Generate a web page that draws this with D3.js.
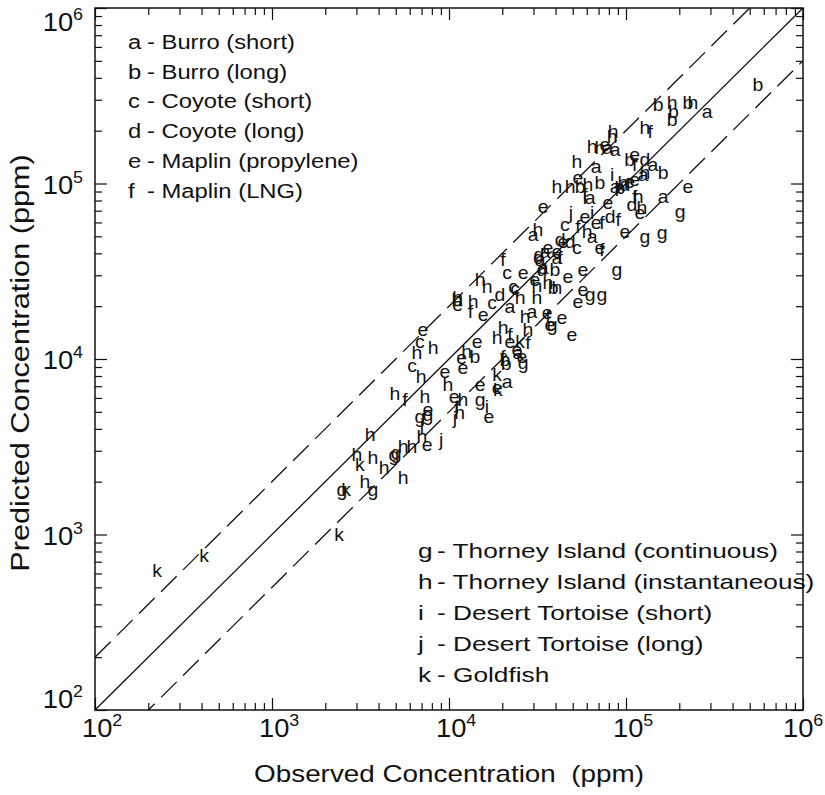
<!DOCTYPE html>
<html>
<head>
<meta charset="utf-8">
<script src="https://cdn.jsdelivr.net/npm/d3@7/dist/d3.min.js"></script>
<style>
  html, body { margin: 0; padding: 0; background: #fff; }
  svg text { font-family: "Liberation Sans", Arial, Helvetica, sans-serif; fill: #111; }
</style>
</head>
<body>
<svg id="chart" width="825" height="795"></svg>
<script>
// Observed vs predicted concentration, letters mark each field trial set.
// Values are [observed ppm, predicted ppm].

const burroShort = [[3.49e4,4.07e4],[2.99e4,5.09e4],[3.27e4,3.66e4],[4.07e4,3.76e4],[3.40e4,3.30e4],
  [6.43e4,4.95e4],[6.27e4,8.26e4],[6.78e4,1.24e5],[8.67e4,1.55e5],[7.91e4,1.59e5],[8.67e4,9.55e4],
  [1.25e5,1.12e5],[1.42e5,1.27e5],[1.62e5,8.38e4],[2.87e5,2.55e5],[2.21e4,1.98e4],[2.94e4,1.85e4],
  [2.45e4,1.08e4],[2.13e4,7.40e3]];
const burroLong = [[5.57e5,3.64e5],[1.52e5,2.80e5],[1.85e5,2.55e5],[1.82e5,2.30e5],[2.24e5,2.88e5],
  [1.05e5,1.36e5],[1.62e5,1.15e5],[7.13e4,1.01e5],[9.25e4,9.42e4],[5.50e4,9.55e4],[3.97e4,3.21e4],
  [3.87e4,2.54e4],[1.11e4,2.17e4],[1.40e4,1.03e4],[2.07e4,9.87e3],[2.10e4,9.37e3]];
const coyoteShort = [[4.52e4,5.80e4],[5.28e4,4.29e4],[3.18e4,3.76e4],[2.13e4,3.09e4],[2.30e4,2.57e4],
  [2.36e4,2.51e4],[1.75e4,2.08e4],[6.85e3,1.25e4],[6.18e3,9.12e3]];
const coyoteLong = [[4.24e4,4.76e4],[4.83e4,4.64e4],[3.35e4,3.21e4],[3.22e4,3.92e4],[8.13e4,6.44e4],
  [1.28e5,1.36e5],[9.86e4,9.80e4],[1.08e5,7.54e4],[1.94e4,2.32e4]];
const maplinPropylene = [[3.40e4,7.35e4],[5.86e4,6.44e4],[6.78e4,5.96e4],[7.91e4,7.74e4],[1.20e5,6.79e4],
  [9.86e4,5.29e4],[2.24e5,9.55e4],[3.62e4,4.29e4],[4.40e4,4.64e4],[4.07e4,4.07e4],[7.13e4,4.29e4],
  [2.62e4,3.09e4],[4.70e4,2.93e4],[5.71e4,3.21e4],[3.06e4,2.82e4],[5.71e4,2.47e4],[5.35e4,2.11e4],
  [1.12e4,2.03e4],[1.56e4,1.78e4],[3.58e4,1.83e4],[4.35e4,1.71e4],[3.72e4,1.56e4],[4.95e4,1.37e4],
  [7.13e3,1.46e4],[1.44e4,1.25e4],[2.21e4,1.25e4],[1.20e4,8.89e3],[1.18e4,1.01e4],[9.48e3,8.43e3],
  [1.07e4,6.07e3],[1.50e4,7.11e3],[1.87e4,6.84e3],[1.68e4,4.67e3],[2.42e4,1.12e4],[2.58e4,1.03e4],
  [7.60e3,5.12e3],[7.52e3,3.24e3],[1.12e5,1.05e5],[1.05e5,1.02e5],[1.12e5,1.45e5],[7.60e4,1.66e5],
  [5.35e4,1.07e5]];
const maplinLng = [[1.37e5,1.96e5],[1.12e5,1.27e5],[8.89e4,9.19e4],[5.86e4,8.60e4],[1.12e5,8.38e4],
  [7.31e4,5.96e4],[9.02e4,6.19e4],[5.35e4,5.65e4],[4.24e4,3.76e4],[2.02e4,3.66e4],[7.31e4,4.18e4],
  [1.32e4,1.85e4],[3.62e4,1.73e4],[2.21e4,1.37e4],[2.79e4,1.23e4],[2.02e4,1.03e4],[1.11e4,5.26e3],
  [5.64e3,5.83e3]];
const thorneyCont = [[2.02e5,6.88e4],[1.28e5,4.95e4],[1.60e5,5.22e4],[8.89e4,3.21e4],[6.27e4,2.32e4],
  [7.31e4,2.32e4],[3.82e4,1.56e4],[2.62e4,9.48e3],[1.50e4,5.83e3],[6.85e3,4.67e3],[7.60e3,4.80e3],
  [4.89e3,2.84e3],[5.02e3,2.91e3],[2.48e3,1.79e3],[3.72e3,1.79e3]];
const thorneyInst = [[2.39e5,2.88e5],[1.82e5,2.88e5],[1.28e5,2.07e5],[8.45e4,1.96e5],[8.34e4,1.84e5],
  [6.43e4,1.61e5],[7.13e4,1.59e5],[5.28e4,1.33e5],[1.28e5,1.15e5],[4.07e4,9.55e4],[4.83e4,9.55e4],
  [6.09e4,9.80e4],[9.62e4,1.01e5],[1.17e5,8.38e4],[1.23e5,7.24e4],[6.03e4,5.29e4],[3.18e4,5.43e4],
  [1.50e4,2.82e4],[1.64e4,2.57e4],[3.14e4,2.61e4],[3.62e4,2.71e4],[4.07e4,2.54e4],[1.12e4,2.23e4],
  [1.37e4,2.11e4],[2.52e4,2.23e4],[3.14e4,2.23e4],[2.69e4,1.73e4],[1.87e4,1.32e4],[2.02e4,1.50e4],
  [2.79e4,1.46e4],[1.26e4,1.10e4],[9.86e3,7.11e3],[1.20e4,5.83e3],[1.15e4,4.92e3],[6.59e3,1.08e4],
  [8.13e3,1.16e4],[6.95e3,7.89e3],[4.95e3,6.32e3],[7.31e3,6.07e3],[7.03e3,3.59e3],[3.58e3,3.69e3],
  [3.02e3,2.84e3],[3.72e3,2.73e3],[4.30e3,2.39e3],[5.50e3,3.15e3],[6.18e3,3.15e3],[5.50e3,2.10e3],
  [3.35e3,1.99e3]];
const tortoiseShort = [[8.34e4,1.12e5],[5.86e4,8.26e4],[1.64e4,5.33e3],[6.43e4,6.79e4]];
const tortoiseLong = [[4.89e4,6.79e4],[1.08e4,4.61e3],[9.02e3,3.45e3],[7.03e3,4.21e3]];
const goldfish = [[224,620],[413,754],[2390,993],[2620,1790],[3140,2490],[1.87e4,8.11e3],
  [1.89e4,6.65e3],[2.52e4,1.25e4]];

const letters = ["a","b","c","d","e","f","g","h","i","j","k"];
const names = ["Burro (short)","Burro (long)","Coyote (short)","Coyote (long)","Maplin (propylene)",
  "Maplin (LNG)","Thorney Island (continuous)","Thorney Island (instantaneous)",
  "Desert Tortoise (short)","Desert Tortoise (long)","Goldfish"];
const seriesData = [burroShort, burroLong, coyoteShort, coyoteLong, maplinPropylene, maplinLng,
  thorneyCont, thorneyInst, tortoiseShort, tortoiseLong, goldfish];
const decades = [2, 3, 4, 5, 6];
const ratioLines = [1, 2, 0.5];   // predicted / observed

const svg = d3.select("#chart");
const L = 95, R = 803, T = 8, B = 710;
const x = d3.scaleLog().domain([1e2, 1e6]).range([L, R]);
const y = d3.scaleLog().domain([1e2, 1e6]).range([B, T]);

// the original lettering is a touch wider than Liberation Sans -> stretch horizontally
function stext(px, py, size, sx, extra) {
  return svg.append("text")
    .attr("transform", `translate(${px},${py})` + (extra || "") + ` scale(${sx},1)`)
    .attr("font-size", size);
}

// tick values, majors at each decade
const minor = [], major = decades.map(d => Math.pow(10, d));
decades.slice(0, -1).forEach(d => {
  for (let m = 2; m <= 9; m++) minor.push(m * Math.pow(10, d));
});

function tickAxis(axisFn, scale, vals, len, tx) {
  const g = svg.append("g").attr("transform", tx)
    .call(axisFn(scale).tickValues(vals).tickSize(-len).tickFormat(""));
  g.select(".domain").remove();
  g.selectAll(".tick line").attr("stroke", "#111").attr("stroke-width", 1.2);
}
[[major, 12], [minor, 7]].forEach(([vals, len]) => {
  tickAxis(d3.axisBottom, x, vals, len, `translate(0,${B})`);
  tickAxis(d3.axisTop, x, vals, len, `translate(0,${T})`);
  tickAxis(d3.axisLeft, y, vals, len, `translate(${L},0)`);
  tickAxis(d3.axisRight, y, vals, len, `translate(${R},0)`);
});

// clip for reference lines
svg.append("clipPath").attr("id", "plotclip")
  .append("rect").attr("x", L).attr("y", T).attr("width", R - L).attr("height", B - T);

const lineG = svg.append("g").attr("clip-path", "url(#plotclip)");
ratioLines.forEach(r => {
  lineG.append("line")
    .attr("x1", x(1e2)).attr("y1", y(1e2 * r))
    .attr("x2", x(1e6)).attr("y2", y(1e6 * r))
    .attr("stroke", "#111")
    .attr("stroke-width", 1.3)
    .attr("stroke-dasharray", r === 1 ? null : "22,9");
});

// frame
svg.append("rect")
  .attr("x", L).attr("y", T).attr("width", R - L).attr("height", B - T)
  .attr("fill", "none").attr("stroke", "#111").attr("stroke-width", 1.5);

// letter markers
seriesData.forEach((pts, i) => {
  pts.forEach(d => {
    stext(x(d[0]), y(d[1]) + 6, 18, 1.08).attr("text-anchor", "middle").text(letters[i]);
  });
});

// tick labels with superscript exponents
function powLabel(sel, e) {
  sel.append("tspan").text("10");
  sel.append("tspan").attr("dy", -11).attr("font-size", 17).text(e);
}
decades.forEach(d => {
  const off = d === 6 ? -20 : -13;
  powLabel(stext(x(Math.pow(10, d)) + off, B + 27, 26, 1.05), d);
});
decades.forEach(d => {
  let by = y(Math.pow(10, d)) + 10;
  if (d === 6) by = 31;
  if (d === 2) by = 708;
  powLabel(stext(L - 12, by, 26, 1.05).attr("text-anchor", "end"), d);
});

// axis titles
stext((L + R) / 2, 782, 24, 1.16)
  .attr("text-anchor", "middle")
  .attr("xml:space", "preserve")
  .text("Observed Concentration  (ppm)");
stext(29, (T + B) / 2 + 4, 26, 1.18, " rotate(-90)")
  .attr("text-anchor", "middle")
  .text("Predicted Concentration (ppm)");

// legends: first six upper left, last five lower right
function legendRow(i, lx, ly, size, sx) {
  stext(lx, ly, size, sx).text(letters[i]);
  stext(lx + 19, ly, size, sx).text("- " + names[i]);
}
for (let i = 0; i < 6; i++) legendRow(i, 128, 49 + i * 29.7, 20, 1.19);
for (let i = 6; i < 11; i++) legendRow(i, 418, 558 + (i - 6) * 31, 21, 1.25);
</script>
</body>
</html>
